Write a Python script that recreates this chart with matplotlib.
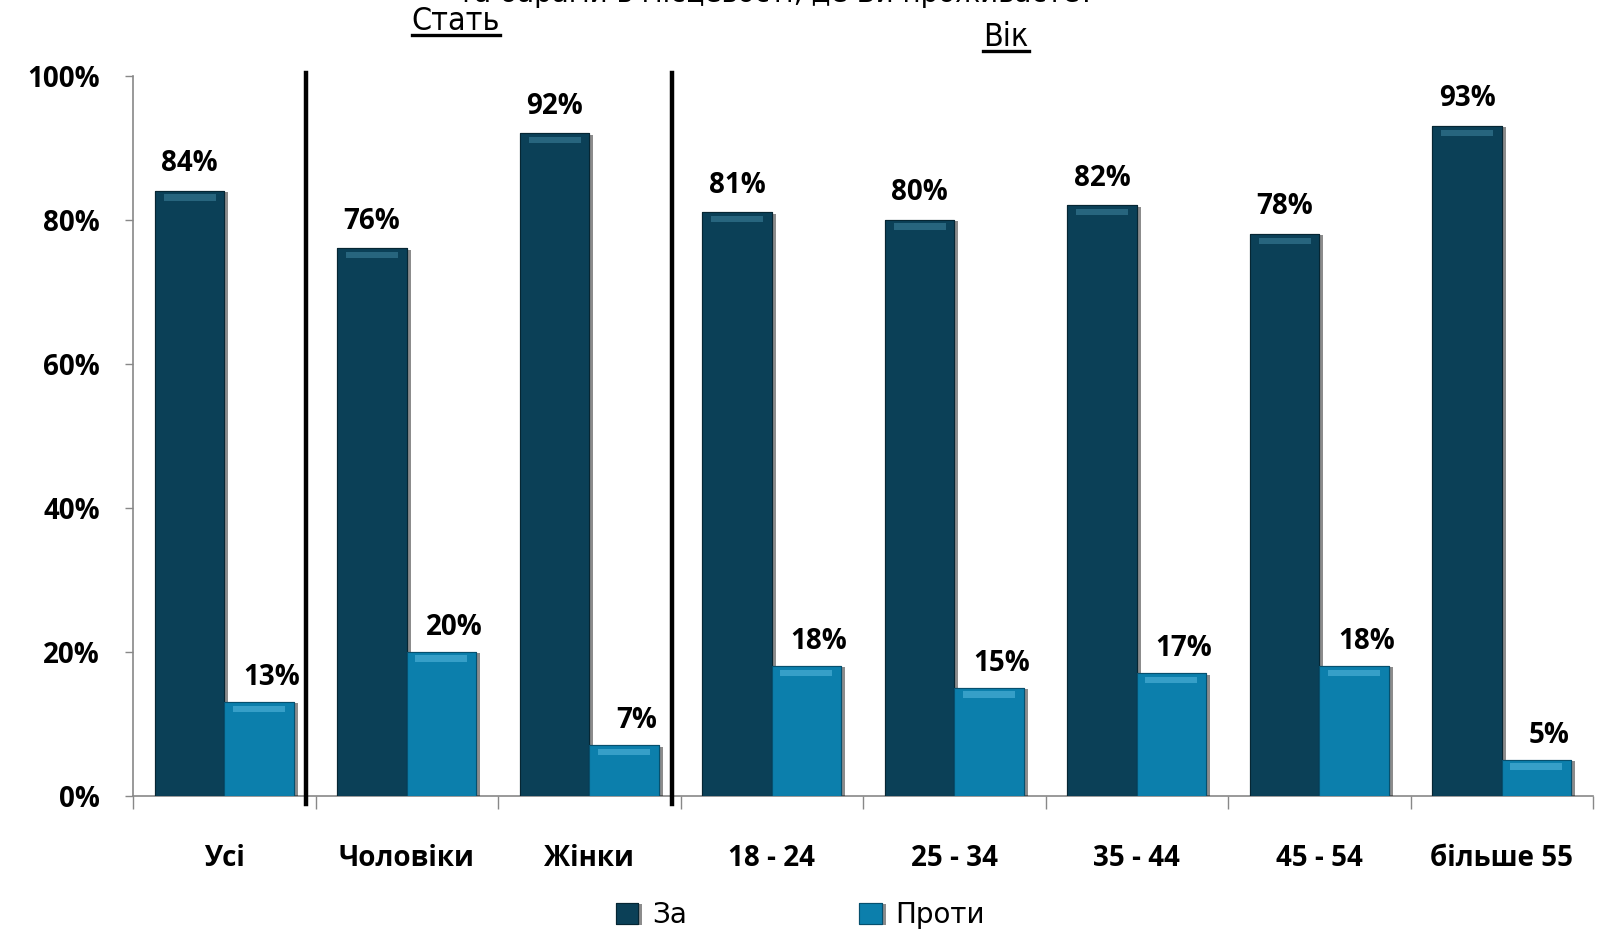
import numpy as np
import matplotlib
matplotlib.use("Agg")
import matplotlib.pyplot as plt
import matplotlib.patheffects as pe
from matplotlib.lines import Line2D

plt.rcParams['font.family'] = ['Open Sans', 'DejaVu Sans']

# data
categories = ['Усі', 'Чоловіки', 'Жінки', '18 - 24', '25 - 34', '35 - 44', '45 - 54', 'більше 55']
za = [84, 76, 92, 81, 80, 82, 78, 93]
proty = [13, 20, 7, 18, 15, 17, 18, 5]
series_names = ['За', 'Проти']
yticks = [0, 20, 40, 60, 80, 100]
separators = [0.45, 2.455]
group_titles = ['Стать', 'Вік']
question_tail = 'та барами в місцевості, де Ви проживаєте?'

dark = '#0b4057'
light = '#0c7fac'

fig = plt.figure(figsize=(16.01, 9.30), dpi=100)
ax = fig.add_axes([0.0831, 0.1446, 0.9119, 0.7742])

x = np.arange(len(categories))
w = 0.38
shadow = [pe.withSimplePatchShadow(offset=(3, -1), shadow_rgbFace='black', alpha=0.45), pe.Normal()]
b1 = ax.bar(x - w / 2, za, w, color=dark, edgecolor='#062633', linewidth=0.8,
            label=series_names[0], path_effects=shadow, zorder=3)
b2 = ax.bar(x + w / 2, proty, w, color=light, edgecolor='#06506e', linewidth=0.8,
            label=series_names[1], path_effects=shadow, zorder=3)

# bevel highlight at bar tops
for bars, hl in ((b1, '#2f6f88'), (b2, '#41a8d0')):
    for r in bars:
        ax.bar(r.get_x() + r.get_width() / 2, 0.9, r.get_width() * 0.75,
               bottom=r.get_height() - 1.4, color=hl, alpha=0.8, zorder=4, linewidth=0)

lbl = dict(textcoords='offset points', ha='center', va='bottom', fontsize=20, fontweight='bold')
for r, v in zip(b1, za):
    ax.annotate(f'{v}%', (r.get_x() + r.get_width() / 2, v), xytext=(0, 9), **lbl)
for r, v in zip(b2, proty):
    ax.annotate(f'{v}%', (r.get_x() + r.get_width() / 2, v), xytext=(9, 7), **lbl)

ax.set_xlim(-0.5, len(categories) - 0.5)
ax.set_ylim(0, 100)
ax.set_yticks(yticks)
ax.set_yticklabels([f'{t}%' for t in yticks], fontsize=20, fontweight='bold')
ax.set_xticks(x)
ax.set_xticklabels(categories, fontsize=20, fontweight='bold')
ax.set_xticks(np.arange(-0.5, len(categories)), minor=True)
ax.tick_params(axis='x', which='major', length=0, pad=35)
ax.tick_params(axis='x', which='minor', length=9, width=1, color='#888888')
ax.tick_params(axis='y', length=6, width=1, color='#888888', pad=18)

for s in ('top', 'right'):
    ax.spines[s].set_visible(False)
for s in ('left', 'bottom'):
    ax.spines[s].set_color('#888888')
    ax.spines[s].set_linewidth(1.2)

for sx in separators:
    ax.plot([sx, sx], [-1.2, 100.3], color='black', lw=3.2, clip_on=False, zorder=5)

leg = fig.legend(handles=[b1, b2], labels=series_names, loc='center',
                 bbox_to_anchor=(0.5, 1 - 915 / 930), ncol=2, frameon=False,
                 prop={'family': 'DejaVu Sans', 'size': 20}, handlelength=0.8, handleheight=0.8,
                 handletextpad=0.5, columnspacing=6.2)

fig.text(776 / 1601, 1 - 2 / 930, question_tail, ha='center', va='baseline', fontsize=20,
         family='DejaVu Sans')

heads = []
heads.append(fig.text(456 / 1601, 1 - 22 / 930, group_titles[0], ha='center', va='center',
                      fontsize=23, family='DejaVu Sans', fontstretch='condensed'))
heads.append(fig.text(1006 / 1601, 1 - 38 / 930, group_titles[1], ha='center', va='center',
                      fontsize=23, family='DejaVu Sans', fontstretch='condensed'))

fig.canvas.draw()
renderer = fig.canvas.get_renderer()
for t in heads:
    bb = t.get_window_extent(renderer).transformed(fig.transFigure.inverted())
    y0 = bb.y0 + 0.003
    fig.add_artist(Line2D([bb.x0, bb.x1], [y0, y0], color='black', lw=2.4,
                          transform=fig.transFigure))

fig.savefig('out.png', dpi=100)
